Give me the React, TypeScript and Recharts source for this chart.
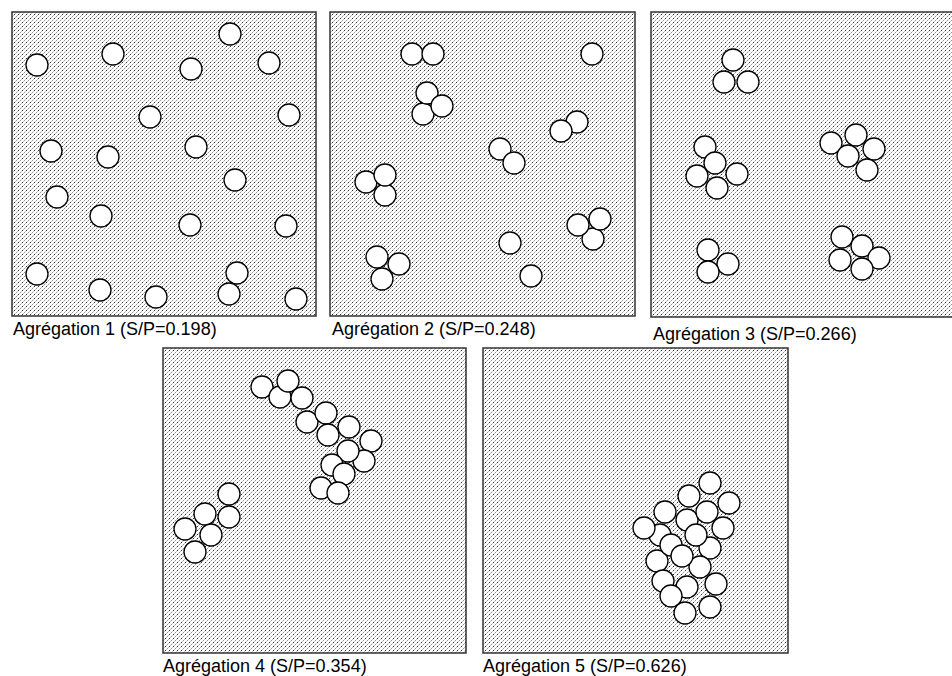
import React from "react";
import { ScatterChart, Scatter, XAxis, YAxis, ReferenceArea } from "recharts";

// circle centres, in pixels from each box's top-left corner
const agg1 = [
  { x: 25, y: 53 }, { x: 101, y: 42 }, { x: 218, y: 22 }, { x: 179, y: 57 },
  { x: 257, y: 51 }, { x: 138, y: 105 }, { x: 277, y: 103 }, { x: 39, y: 139 },
  { x: 96, y: 145 }, { x: 184, y: 135 }, { x: 223, y: 168 }, { x: 45, y: 185 },
  { x: 89, y: 204 }, { x: 178, y: 213 }, { x: 274, y: 214 }, { x: 25, y: 262 },
  { x: 225, y: 261 }, { x: 88, y: 278 }, { x: 144, y: 285 }, { x: 217, y: 282 },
  { x: 284, y: 287 },
];

const agg2 = [
  { x: 82, y: 42 }, { x: 103, y: 42 }, { x: 262, y: 42 }, { x: 93, y: 102 },
  { x: 97, y: 81 }, { x: 112, y: 94 }, { x: 247, y: 110 }, { x: 231, y: 119 },
  { x: 170, y: 137 }, { x: 184, y: 151 }, { x: 36, y: 170 }, { x: 55, y: 183 },
  { x: 55, y: 163 }, { x: 263, y: 227 }, { x: 270, y: 207 }, { x: 248, y: 213 },
  { x: 180, y: 231 }, { x: 69, y: 252 }, { x: 52, y: 267 }, { x: 47, y: 245 },
  { x: 201, y: 264 },
];

const agg3 = [
  { x: 82, y: 48 }, { x: 73, y: 70 }, { x: 97, y: 70 }, { x: 54, y: 135 },
  { x: 64, y: 151 }, { x: 46, y: 164 }, { x: 86, y: 162 }, { x: 66, y: 176 },
  { x: 180, y: 131 }, { x: 205, y: 123 }, { x: 223, y: 137 }, { x: 197, y: 144 },
  { x: 216, y: 158 }, { x: 57, y: 238 }, { x: 77, y: 252 }, { x: 57, y: 260 },
  { x: 191, y: 225 }, { x: 211, y: 234 }, { x: 228, y: 246 }, { x: 189, y: 248 },
  { x: 211, y: 257 },
];

const agg4 = [
  { x: 99, y: 39 }, { x: 117, y: 49 }, { x: 125, y: 33 }, { x: 139, y: 50 },
  { x: 144, y: 74 }, { x: 163, y: 65 }, { x: 165, y: 87 }, { x: 186, y: 79 },
  { x: 208, y: 93 }, { x: 201, y: 113 }, { x: 185, y: 103 }, { x: 169, y: 117 },
  { x: 181, y: 126 }, { x: 158, y: 140 }, { x: 175, y: 145 }, { x: 66, y: 146 },
  { x: 42, y: 166 }, { x: 66, y: 169 }, { x: 22, y: 181 }, { x: 48, y: 187 },
  { x: 32, y: 204 },
];

const agg5 = [
  { x: 177, y: 187 }, { x: 204, y: 172 }, { x: 227, y: 200 }, { x: 174, y: 213 },
  { x: 180, y: 233 }, { x: 204, y: 239 }, { x: 217, y: 219 }, { x: 206, y: 148 },
  { x: 227, y: 135 }, { x: 246, y: 155 }, { x: 224, y: 164 }, { x: 240, y: 180 },
  { x: 182, y: 164 }, { x: 161, y: 180 }, { x: 213, y: 187 }, { x: 188, y: 197 },
  { x: 199, y: 208 }, { x: 233, y: 236 }, { x: 188, y: 248 }, { x: 227, y: 259 },
  { x: 202, y: 265 },
];

const spValues = [0.198, 0.248, 0.266, 0.354, 0.626];

const panels = [
  { pts: agg1, left: 12, top: 12, w: 304, h: 304, labelX: 13, labelBase: 335 },
  { pts: agg2, left: 330, top: 12, w: 305, h: 304, labelX: 332, labelBase: 335 },
  { pts: agg3, left: 651, top: 12, w: 304, h: 305, labelX: 653, labelBase: 340 },
  { pts: agg4, left: 163, top: 348, w: 303, h: 305, labelX: 163, labelBase: 672 },
  { pts: agg5, left: 483, top: 348, w: 305, h: 305, labelX: 483, labelBase: 672 },
];

const Ball = (props: any) => (
  <circle cx={props.cx} cy={props.cy} r={11} fill="#fff" stroke="#000" strokeWidth={1.3} />
);

export default function App() {
  return (
    <div
      style={{
        position: "absolute",
        left: 0,
        top: 0,
        width: 952,
        height: 676,
        overflow: "hidden",
        background: "#fff",
        fontFamily: "'Liberation Sans', Arial, sans-serif",
      }}
    >
      <svg width={0} height={0} style={{ position: "absolute" }}>
        <defs>
          <pattern id="stipple" width={4} height={4} patternUnits="userSpaceOnUse">
            <rect width={4} height={4} fill="#fff" />
            <rect x={0} y={0} width={1} height={1} fill="#333" />
            <rect x={2} y={2} width={1} height={1} fill="#999" />
            <rect x={3} y={1} width={1} height={1} fill="#c2c2c2" />
            <rect x={1} y={3} width={1} height={1} fill="#c2c2c2" />
          </pattern>
        </defs>
      </svg>
      {panels.map((p, i) => (
        <React.Fragment key={i}>
          <div style={{ position: "absolute", left: p.left - 2, top: p.top - 2 }}>
            <ScatterChart
              width={p.w + 4}
              height={p.h + 4}
              margin={{ top: 2, right: 2, bottom: 2, left: 2 }}
            >
              <XAxis type="number" dataKey="x" domain={[0, p.w]} hide />
              <YAxis type="number" dataKey="y" domain={[0, p.h]} reversed hide />
              <ReferenceArea
                x1={0}
                x2={p.w}
                y1={0}
                y2={p.h}
                fill="url(#stipple)"
                fillOpacity={1}
                stroke="#333"
                strokeWidth={1.5}
              />
              <Scatter data={p.pts} shape={Ball} isAnimationActive={false} />
            </ScatterChart>
          </div>
          <div
            style={{
              position: "absolute",
              left: p.labelX,
              top: p.labelBase - 15,
              fontSize: 18,
              lineHeight: "18px",
              whiteSpace: "nowrap",
              color: "#000",
            }}
          >
            {`Agrégation ${i + 1} (S/P=${spValues[i].toFixed(3)})`}
          </div>
        </React.Fragment>
      ))}
    </div>
  );
}
